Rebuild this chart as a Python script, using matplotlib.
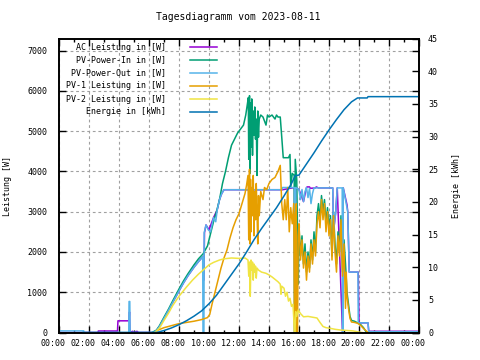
import matplotlib
matplotlib.use('Agg')
import matplotlib.pyplot as plt
from matplotlib.ticker import MultipleLocator
from matplotlib.transforms import ScaledTranslation

plt.rcParams['font.family'] = ['DejaVu Sans Mono', 'DejaVu Sans']

title = 'Tagesdiagramm vom 2023-08-11'
x_ticks = list(range(0, 25, 2))
x_labels = ['00:00', '02:00', '04:00', '06:00', '08:00', '10:00', '12:00',
            '14:00', '16:00', '18:00', '20:00', '22:00', '00:00']
series_names = ['AC Leistung in [W]', 'PV-Power-In in [W]', 'PV-Power-Out in [W]',
                'PV-1 Leistung in [W]', 'PV-2 Leistung in [W]', 'Energie in [kWh]']

# AC Leistung [W]
ac_t = [0, 2.6, 2.62, 3.9, 3.93, 4.67, 4.7, 4.73, 4.9, 5.0,
        5.2, 5.3, 6.3, 6.5, 6.7, 7.0, 7.3, 7.6, 8.0, 8.3,
        8.6, 9.0, 9.3, 9.58, 9.62, 9.66, 9.7, 9.8, 10.0, 10.3,
        10.55, 10.7, 10.85, 11.0, 14.9, 15.7, 15.72, 15.78, 16.0, 16.3,
        16.5, 16.55, 16.7, 16.75, 17.1, 17.15, 17.3, 18.25, 18.3, 18.45,
        18.55, 18.9, 18.95, 19.2, 19.25, 19.35, 19.95, 20.0, 20.6, 20.65,
        24.0]
ac_w = [0, 0, 37, 37, 290, 290, 510, 0, 30, 0,
        30, 0, 0, 50, 150, 350, 550, 760, 1030, 1230,
        1410, 1620, 1760, 1880, 1300, 1300, 2480, 2670, 2550, 2850,
        3050, 3300, 3450, 3545, 3545, 3600, 0, 3600, 3550, 3250,
        3600, 3615, 3615, 3580, 3590, 3615, 3590, 3590, 2500, 3000,
        3590, 0, 3590, 3170, 3000, 1500, 1500, 240, 240, 30,
        30]

# PV-Power-In [W]
pvin_t = [6.2, 6.5, 6.7, 7.0, 7.3, 7.6, 8.0, 8.3, 8.6, 9.0,
          9.3, 9.6, 9.9, 10.1, 10.3, 10.5, 10.7, 10.9, 11.1, 11.3,
          11.5, 11.7, 11.9, 12.1, 12.3, 12.45, 12.55, 12.62, 12.65, 12.7,
          12.73, 12.77, 12.8, 12.85, 12.9, 12.95, 13.0, 13.05, 13.1, 13.15,
          13.2, 13.25, 13.3, 13.35, 13.45, 13.6, 13.8, 13.9, 14.0, 14.2,
          14.4, 14.5, 14.6, 14.75, 14.85, 14.95, 15.3, 15.4, 15.45, 15.55,
          15.68, 15.7, 15.73, 15.75, 15.85, 15.95, 16.0, 16.1, 16.2, 16.3,
          16.4, 16.5, 16.6, 16.7, 16.8, 16.9, 17.0, 17.1, 17.2, 17.3,
          17.4, 17.5, 17.6, 17.7, 17.8, 17.9, 18.0, 18.1, 18.2, 18.3,
          18.4, 18.5, 18.6, 18.7, 18.8, 18.9, 19.0, 19.1, 19.2, 19.3,
          19.4, 19.5, 19.7, 19.9, 20.1, 20.3, 20.5]
pvin_w = [0, 60, 170, 380, 580, 800, 1080, 1280, 1460, 1680,
          1830, 1950, 2150, 2450, 2750, 3000, 3300, 3700, 4000, 4350,
          4650, 4800, 4950, 5050, 5150, 5400, 5650, 5830, 4300, 5880,
          3950, 5700, 4600, 5800, 4400, 5500, 4900, 5600, 4800, 5300,
          3900, 5500, 4850, 5300, 5400, 5350, 5150, 5400, 5350, 5400,
          5300, 5400, 5350, 5350, 4850, 4340, 4340, 4420, 3600, 3950,
          3900, 0, 0, 4300, 3800, 1200, 2600, 1900, 2400, 1700,
          2200, 1500, 2000, 1600, 2300, 1800, 2500, 2000, 2900, 3200,
          2800, 3400, 3000, 3300, 2700, 3100, 2600, 2900, 1900, 3000,
          2200, 1700, 2500, 2000, 2900, 1500, 2300, 1700, 1000, 700,
          400, 300, 280, 240, 200, 120, 0]

# PV-Power-Out [W]
pvout_t = [0, 1.65, 1.67, 4.65, 4.67, 4.72, 4.74, 6.3, 6.5, 6.7,
           7.0, 7.3, 7.6, 8.0, 8.3, 8.6, 9.0, 9.3, 9.58, 9.6,
           9.66, 9.68, 9.8, 9.95, 10.1, 10.3, 10.45, 10.55, 10.7, 10.85,
           11.0, 14.85, 14.9, 15.7, 15.72, 15.76, 15.78, 16.0, 16.1, 16.2,
           16.3, 16.4, 16.5, 16.6, 16.7, 16.8, 16.9, 17.0, 18.25, 18.3,
           18.45, 18.55, 18.88, 18.9, 18.93, 18.95, 19.25, 19.35, 19.93, 19.95,
           20.6, 20.65, 24.0]
pvout_w = [40, 40, 0, 0, 770, 770, 0, 0, 50, 150,
           350, 550, 760, 1030, 1230, 1410, 1620, 1760, 1880, 0,
           0, 2480, 2670, 2550, 2500, 2850, 2750, 3050, 3300, 3450,
           3545, 3545, 3600, 3600, 0, 0, 3600, 3550, 3300, 3550,
           3250, 3500, 3600, 3350, 3580, 3200, 3450, 3590, 3590, 2500,
           3000, 3590, 3590, 0, 0, 3590, 3000, 1500, 1500, 240,
           240, 20, 20]

# PV-1 Leistung [W]
pv1_t = [6.4, 6.6, 7.0, 7.5, 8.0, 8.5, 9.0, 9.5, 9.9, 10.05,
         10.2, 10.4, 10.6, 10.8, 11.0, 11.2, 11.4, 11.6, 11.8, 12.0,
         12.2, 12.4, 12.5, 12.6, 12.65, 12.7, 12.73, 12.77, 12.8, 12.85,
         12.9, 12.95, 13.0, 13.05, 13.1, 13.15, 13.2, 13.25, 13.3, 13.35,
         13.45, 13.6, 13.7, 13.85, 14.0, 14.2, 14.4, 14.6, 14.75, 14.85,
         14.95, 15.05, 15.15, 15.25, 15.35, 15.45, 15.55, 15.65, 15.7, 15.73,
         15.75, 15.82, 15.85, 15.9, 15.95, 16.0, 16.1, 16.2, 16.3, 16.4,
         16.5, 16.6, 16.7, 16.8, 16.9, 17.0, 17.1, 17.2, 17.3, 17.4,
         17.5, 17.6, 17.7, 17.8, 17.9, 18.0, 18.1, 18.2, 18.3, 18.4,
         18.5, 18.6, 18.7, 18.8, 18.9, 19.0, 19.1, 19.15, 19.2, 19.3,
         19.4, 19.5, 19.7, 19.9, 20.1, 20.3, 20.6]
pv1_w = [0, 60, 120, 170, 220, 250, 280, 320, 370, 450,
         700, 1000, 1300, 1600, 1850, 2050, 2350, 2600, 2800, 2950,
         3200, 3450, 3650, 3900, 2300, 4050, 2200, 3800, 2500, 3600,
         2900, 3900, 2400, 3500, 2800, 3700, 3000, 2200, 3400, 2900,
         3500, 3300, 3600, 3550, 3700, 3800, 3850, 4000, 4150, 3200,
         2800, 3300, 2800, 3600, 2500, 3100, 2700, 3200, 0, 0,
         2900, 3200, 0, 0, 2400, 2700, 1800, 2300, 1600, 2000,
         1300, 1900, 1500, 2200, 1700, 2300, 1900, 2700, 3000, 2600,
         3300, 2800, 3200, 2500, 3000, 2400, 2800, 1800, 2900, 2000,
         1500, 2400, 1900, 2800, 1400, 2200, 600, 1500, 900, 600,
         350, 260, 250, 230, 180, 100, 0]

# PV-2 Leistung [W]
pv2_t = [6.4, 6.7, 7.0, 7.3, 7.6, 8.0, 8.5, 8.9, 9.3, 9.7,
         10.0, 10.3, 10.7, 11.0, 11.5, 12.0, 12.4, 12.6, 12.65, 12.7,
         12.75, 12.8, 12.85, 12.9, 12.95, 13.0, 13.05, 13.1, 13.15, 13.2,
         13.3, 13.5, 13.8, 14.0, 14.2, 14.4, 14.6, 14.75, 14.8, 14.85,
         15.0, 15.1, 15.2, 15.3, 15.4, 15.5, 15.6, 15.7, 15.73, 15.78,
         15.85, 15.95, 16.1, 16.3, 16.6, 16.9, 17.2, 17.4, 17.6, 17.8,
         18.0, 18.4, 18.8, 19.2, 19.6, 20.0, 20.2]
pv2_w = [0, 110, 300, 480, 680, 900, 1130, 1300, 1450, 1580,
         1680, 1740, 1800, 1830, 1850, 1840, 1850, 1800, 1400, 1750,
         900, 1800, 1550, 1750, 1300, 1700, 1500, 1650, 1350, 1600,
         1550, 1500, 1470, 1430, 1380, 1320, 1260, 1200, 950, 1150,
         1100, 900, 1000, 780, 850, 650, 700, 0, 0, 520,
         400, 560, 470, 390, 400, 380, 360, 250, 150, 120,
         110, 80, 60, 50, 40, 10, 0]

# Energie [kWh]
en_t = [1.6, 6.5, 7.0, 7.5, 8.0, 8.5, 9.0, 9.5, 10.0, 10.5,
        11.0, 11.5, 12.0, 12.5, 13.0, 13.5, 14.0, 14.5, 15.0, 15.5,
        15.75, 16.0, 16.5, 17.0, 17.5, 18.0, 18.5, 19.0, 19.5, 19.9,
        20.55, 20.6, 24.0]
en_kwh = [0, 0, 0.3, 0.7, 1.2, 1.8, 2.5, 3.3, 4.4, 5.7,
          7.3, 8.9, 10.5, 12.3, 14.2, 15.9, 17.5, 19.1, 20.9, 22.8,
          24.0, 24.1, 25.8, 27.5, 29.3, 31.0, 32.6, 34.1, 35.3, 35.9,
          35.9, 36.1, 36.1]

# Legendentexte rechtsbuendig (Monospace-Schrift)
width = max(len(n) for n in series_names)
labels = [n.rjust(width) for n in series_names]

fig = plt.figure(figsize=(4.8, 3.6), dpi=100)
ax = fig.add_axes([59 / 480, 27.5 / 360, 360 / 480, 294 / 360])
ax2 = ax.twinx()

lw = 1.1
l1, = ax.plot(ac_t, ac_w, color='#9400d3', lw=lw, label=labels[0])
l2, = ax.plot(pvin_t, pvin_w, color='#009e73', lw=lw, label=labels[1])
l3, = ax.plot(pvout_t, pvout_w, color='#56b4e9', lw=lw, label=labels[2])
l4, = ax.plot(pv1_t, pv1_w, color='#e69f00', lw=lw, label=labels[3])
l5, = ax.plot(pv2_t, pv2_w, color='#f0e442', lw=lw, label=labels[4])
l6, = ax2.plot(en_t, en_kwh, color='#0072b2', lw=lw, label=labels[5])

ax.set_xlim(0, 24)
ax.set_ylim(0, 7300)
ax2.set_ylim(0, 45)

ax.set_xticks(x_ticks)
ax.set_xticklabels(x_labels)
ax.xaxis.set_minor_locator(MultipleLocator(1))
ax.yaxis.set_major_locator(MultipleLocator(1000))
ax2.yaxis.set_major_locator(MultipleLocator(5))

ax.tick_params(axis='both', which='major', direction='in', length=5, width=1,
               labelsize=6, top=True, right=True)
ax.tick_params(axis='x', which='minor', direction='in', length=2.5, width=1, top=True)
ax.tick_params(axis='y', pad=8.5)
ax.tick_params(axis='x', pad=5)
ax2.tick_params(axis='y', direction='in', length=5, width=1, labelsize=6, pad=6.5)

for lbl in ax.get_xticklabels():
    lbl.set_transform(lbl.get_transform() + ScaledTranslation(-6 / 100, 0, fig.dpi_scale_trans))

ax.grid(True, which='major', color='#a0a0a0', linestyle=(0, (2.5, 2.5)), linewidth=0.8)

for a in (ax, ax2):
    for s in a.spines.values():
        s.set_linewidth(1.2)

ax.set_ylabel('Leistung [W]', fontsize=6)
ax.yaxis.set_label_coords(-0.13, 0.5)
ax2.set_ylabel('Energie [kWh]', fontsize=6, rotation=90)
ax2.yaxis.set_label_coords(1.092, 0.5)

fig.text(0.497, 1 - 17.3 / 360, title, ha='center', va='center', fontsize=7)

ax2.legend(handles=[l1, l2, l3, l4, l5, l6], loc='upper left',
           bbox_to_anchor=(65.5 / 480, 1 - 42.5 / 360), bbox_transform=fig.transFigure,
           frameon=False, markerfirst=False, fontsize=6, handlelength=3.3,
           handletextpad=2.9, labelspacing=0.48, borderpad=0, borderaxespad=0)

fig.savefig('out.png', dpi=100)
